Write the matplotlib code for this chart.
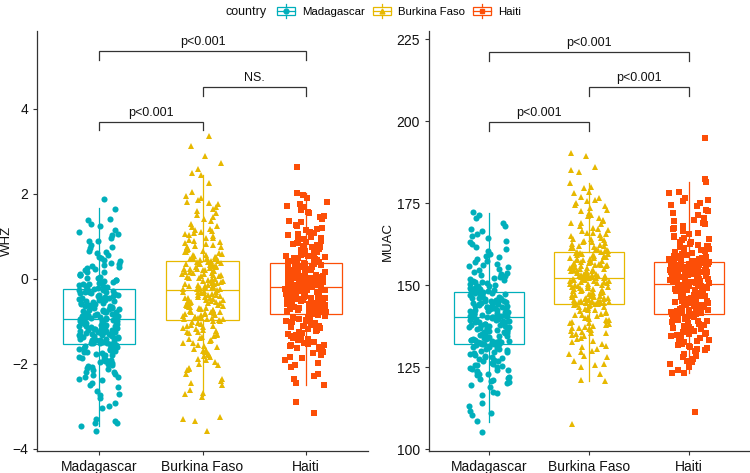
import numpy as np
import matplotlib

matplotlib.use("Agg")
import matplotlib.pyplot as plt  # noqa: E402
from matplotlib.legend_handler import HandlerBase  # noqa: E402
from matplotlib.lines import Line2D  # noqa: E402
from matplotlib.patches import Rectangle  # noqa: E402

plt.rcParams["font.family"] = ["Liberation Sans", "DejaVu Sans"]

countries = ["Madagascar", "Burkina Faso", "Haiti"]
colors = ["#00AFBB", "#E7B800", "#FC4E07"]
markers = ["o", "^", "s"]

# ---- WHZ values ----
whz_madagascar = [
    1.88, 1.65, 1.40, 1.38, 1.28, 1.15, 1.10, 1.02, 0.95, 0.88, 0.80, 0.72, 0.65, 0.60, 0.52,
    0.48, 0.42, 0.38, 0.33, 0.28, 0.25, 0.20, 0.16, 0.12, 0.08, 0.05, 0.02, -0.02, -0.05, -0.08,
    -0.10, -0.13, -0.15, -0.18, -0.20, -0.22, -0.23,
    -0.26, -0.28, -0.30, -0.32, -0.35, -0.37, -0.40, -0.42, -0.44, -0.46, -0.48, -0.50, -0.52,
    -0.55, -0.57, -0.59, -0.61, -0.63, -0.65, -0.67, -0.69, -0.71, -0.73, -0.75, -0.77, -0.78,
    -0.80, -0.82, -0.84, -0.85, -0.87, -0.88, -0.90, -0.91, -0.92, -0.93, -0.94,
    -0.96, -0.98, -0.99, -1.01, -1.02, -1.04, -1.05, -1.07, -1.08, -1.10, -1.12, -1.13, -1.15,
    -1.17, -1.18, -1.20, -1.22, -1.24, -1.25, -1.27, -1.29, -1.30, -1.32, -1.34, -1.36, -1.37,
    -1.39, -1.41, -1.43, -1.44, -1.46, -1.48, -1.49, -1.50, -1.51, -1.52, -1.53,
    -1.56, -1.58, -1.61, -1.64, -1.67, -1.70, -1.73, -1.77, -1.80, -1.84, -1.88, -1.92, -1.96,
    -2.00, -2.05, -2.10, -2.15, -2.20, -2.26, -2.32, -2.38, -2.45, -2.49, -2.55, -2.65, -2.70,
    -2.73, -2.80, -2.92, -2.99, -3.05, -3.30, -3.34, -3.38, -3.40, -3.47, -3.58,
]
whz_madagascar_more = [
    1.25, 1.05, 0.90, 0.75, 0.62, 0.55, 0.45, 0.35, 0.30, 0.22, 0.15, 0.10, 0.03, -0.03, -0.07,
    -0.12, -0.17, -0.21,
    -0.27, -0.31, -0.34, -0.38, -0.41, -0.45, -0.49, -0.53, -0.56, -0.60, -0.64, -0.68, -0.72,
    -0.76, -0.79, -0.83, -0.86, -0.89, -0.92, -0.94, -0.33, -0.47, -0.62, -0.74, -0.86,
    -0.97, -1.00, -1.03, -1.06, -1.09, -1.11, -1.14, -1.16, -1.19, -1.21, -1.23, -1.26, -1.28,
    -1.31, -1.33, -1.35, -1.38, -1.40, -1.42, -1.45, -1.47, -1.03, -1.19, -1.33, -1.50,
    -1.57, -1.60, -1.63, -1.66, -1.69, -1.72, -1.75, -1.79, -1.82, -1.86, -1.90, -1.94, -1.98,
    -2.03, -2.08, -2.13, -2.18, -2.24, -2.30, -2.36,
]
whz_burkina = [
    3.35, 3.12, 2.88, 2.72, 2.58, 2.50, 2.45, 2.25, 1.95, 1.85, 1.80, 1.78, 1.70, 1.60, 1.50,
    1.40, 1.30, 1.22, 1.15, 1.10, 1.05, 1.00, 0.95, 0.90, 0.85, 0.80, 0.76, 0.72, 0.68, 0.64,
    0.60, 0.57, 0.54, 0.51, 0.48, 0.46, 0.44,
    0.41, 0.39, 0.37, 0.35, 0.33, 0.31, 0.29, 0.26, 0.24, 0.22, 0.20, 0.18, 0.16, 0.13, 0.11,
    0.09, 0.07, 0.05, 0.03, 0.00, -0.02, -0.04, -0.06, -0.08, -0.10, -0.12, -0.14, -0.15, -0.17,
    -0.18, -0.20, -0.21, -0.22, -0.23, -0.24, -0.25, -0.26,
    -0.29, -0.31, -0.33, -0.35, -0.37, -0.39, -0.41, -0.43, -0.45, -0.47, -0.49, -0.51, -0.53,
    -0.55, -0.57, -0.59, -0.61, -0.63, -0.65, -0.67, -0.69, -0.71, -0.73, -0.75, -0.77, -0.79,
    -0.81, -0.83, -0.85, -0.87, -0.89, -0.90, -0.92, -0.93, -0.94, -0.95, -0.96,
    -0.99, -1.02, -1.05, -1.09, -1.12, -1.16, -1.20, -1.24, -1.28, -1.32, -1.37, -1.42, -1.47,
    -1.52, -1.58, -1.64, -1.70, -1.76, -1.82, -1.88, -1.95, -2.02, -2.10, -2.15, -2.25, -2.35,
    -2.40, -2.45, -2.50, -2.62, -2.68, -2.78, -3.25, -3.30, -3.35, -3.59, -2.72,
]
whz_burkina_more = [
    2.05, 1.90, 1.75, 1.65, 1.55, 1.45, 1.35, 1.25, 1.18, 1.12, 1.08, 1.02, 0.97, 0.92, 0.87,
    0.82, 0.78, 0.74, 0.70, 0.66, 0.62, 0.58, 0.55, 0.52, 0.49, 0.47,
    0.42, 0.40, 0.38, 0.36, 0.34, 0.32, 0.30, 0.27, 0.25, 0.23, 0.21, 0.19, 0.17, 0.14, 0.12,
    0.10, 0.06, 0.02, -0.01, -0.05, -0.09, -0.13, -0.16, -0.19, -0.23,
    -0.30, -0.34, -0.38, -0.42, -0.46, -0.50, -0.54, -0.58, -0.62, -0.66, -0.70, -0.74, -0.78,
    -0.82, -0.86, -0.90, -0.94, -0.32, -0.44, -0.56, -0.68, -0.80, -0.91,
    -1.00, -1.04, -1.07, -1.10, -1.14, -1.18, -1.22, -1.26, -1.30, -1.35, -1.40, -1.45, -1.50,
    -1.55, -1.61, -1.67, -1.73, -1.79, -1.85, -1.92, -2.00, -2.12,
]
whz_haiti = [
    2.63, 2.03, 1.97, 1.80, 1.75, 1.68, 1.62, 1.55, 1.48, 1.40, 1.33, 1.27, 1.20, 1.14, 1.08,
    1.02, 0.97, 0.92, 0.87, 0.82, 0.78, 0.74, 0.70, 0.66, 0.62, 0.59, 0.56, 0.53, 0.50, 0.48,
    0.46, 0.44, 0.42, 0.40, 0.39, 0.38, 0.37,
    0.35, 0.33, 0.31, 0.30, 0.28, 0.26, 0.24, 0.22, 0.20, 0.18, 0.16, 0.14, 0.12, 0.10, 0.08,
    0.07, 0.05, 0.03, 0.01, -0.01, -0.03, -0.05, -0.06, -0.08, -0.09, -0.10, -0.11, -0.12,
    -0.13, -0.14, -0.15, -0.16, -0.17, -0.18, -0.19, -0.19, -0.20,
    -0.22, -0.24, -0.26, -0.28, -0.30, -0.31, -0.33, -0.35, -0.37, -0.38, -0.40, -0.42, -0.44,
    -0.45, -0.47, -0.49, -0.51, -0.52, -0.54, -0.56, -0.58, -0.59, -0.61, -0.63, -0.65, -0.66,
    -0.68, -0.70, -0.72, -0.73, -0.75, -0.76, -0.78, -0.79, -0.80, -0.81, -0.82,
    -0.85, -0.88, -0.91, -0.94, -0.97, -1.00, -1.04, -1.08, -1.12, -1.16, -1.20, -1.25, -1.30,
    -1.35, -1.40, -1.45, -1.50, -1.56, -1.62, -1.68, -1.74, -1.80, -1.86, -1.92, -1.98, -2.02,
    -2.08, -2.25, -2.28, -2.35, -2.45, -2.50, -2.90, -3.16, -1.55, -1.60, -1.85,
]
whz_haiti_more = [
    1.90, 1.72, 1.58, 1.45, 1.36, 1.24, 1.17, 1.11, 1.05, 0.99, 0.94, 0.89, 0.84, 0.80, 0.76,
    0.72, 0.68, 0.64, 0.60, 0.57, 0.54, 0.51, 0.47, 0.43, 0.41,
    0.36, 0.34, 0.32, 0.29, 0.27, 0.25, 0.23, 0.21, 0.19, 0.17, 0.15, 0.13, 0.11, 0.09, 0.06,
    0.04, 0.02, 0.00, -0.02, -0.04, -0.07, -0.10, -0.13, -0.16, -0.18,
    -0.21, -0.23, -0.25, -0.27, -0.29, -0.32, -0.34, -0.36, -0.39, -0.41, -0.43, -0.46, -0.48,
    -0.50, -0.53, -0.55, -0.57, -0.60, -0.62, -0.64, -0.67, -0.69, -0.71, -0.74, -0.77,
    -0.86, -0.89, -0.92, -0.95, -0.99, -1.02, -1.06, -1.10, -1.14, -1.18, -1.22, -1.27, -1.32,
    -1.37, -1.42, -1.48, -1.53, -1.58, -1.65, -1.72,
]

# ---- MUAC values ----
muac_madagascar = [
    172.4, 171.5, 170.5, 169.0, 168.0, 167.0, 166.5, 165.5, 164.5, 163.5, 162.5, 161.5, 160.5,
    159.5, 158.5, 157.5, 157.0, 156.0, 155.5, 155.0, 154.0, 153.5, 153.0, 152.5, 152.0, 151.5,
    151.0, 150.5, 150.0, 149.7, 149.4, 149.1, 148.8, 148.6, 148.4, 148.2, 148.1,
    147.8, 147.5, 147.2, 147.0, 146.7, 146.4, 146.1, 145.8, 145.5, 145.2, 145.0, 144.7, 144.4,
    144.1, 143.8, 143.5, 143.3, 143.0, 142.8, 142.5, 142.3, 142.1, 141.9, 141.7, 141.5, 141.3,
    141.2, 141.0, 140.9, 140.8, 140.7, 140.6, 140.5, 140.4, 140.3, 140.3, 140.2,
    140.0, 139.7, 139.4, 139.1, 138.8, 138.5, 138.2, 137.9, 137.6, 137.3, 137.0, 136.7, 136.4,
    136.1, 135.8, 135.5, 135.2, 134.9, 134.6, 134.3, 134.0, 133.8, 133.6, 133.4, 133.2, 133.0,
    132.8, 132.7, 132.6, 132.5, 132.4, 132.3, 132.2, 132.1, 132.0, 132.0, 131.9,
    131.6, 131.2, 130.8, 130.4, 130.0, 129.5, 129.0, 128.5, 128.0, 127.5, 127.0, 126.5, 126.0,
    125.5, 125.0, 124.5, 124.0, 123.5, 123.0, 122.5, 122.0, 121.5, 121.0, 120.5, 120.0, 119.5,
    119.0, 117.5, 117.0, 116.5, 114.0, 113.0, 111.5, 111.0, 110.5, 108.6, 105.3,
]
muac_madagascar_more = [
    165.0, 163.0, 161.0, 159.0, 158.0, 156.5, 155.8, 154.5, 153.8, 152.8, 152.2, 151.2, 150.8,
    150.2, 149.8, 149.2, 148.9, 148.5,
    147.9, 147.6, 147.3, 146.9, 146.5, 146.2, 145.9, 145.6, 145.3, 144.9, 144.6, 144.2, 143.9,
    143.6, 143.2, 142.9, 142.6, 142.2, 141.8, 141.4, 141.1, 140.8, 140.5, 146.0, 143.4,
    139.8, 139.5, 139.2, 138.9, 138.6, 138.3, 138.0, 137.7, 137.4, 137.1, 136.8, 136.5, 136.2,
    135.9, 135.6, 135.3, 135.0, 134.7, 134.4, 134.1, 133.7, 133.3, 132.9, 132.4, 137.8,
    131.4, 131.0, 130.6, 130.2, 129.7, 129.2, 128.7, 128.2, 127.7, 127.2, 126.7, 126.2, 125.7,
    125.2, 124.7, 124.2, 123.7, 122.8, 121.8, 120.8,
]
muac_burkina = [
    190.4, 189.4, 186.0, 185.1, 184.5, 181.0, 180.0, 179.5, 178.5, 177.0, 176.0, 175.0, 174.0,
    173.0, 172.0, 171.0, 170.0, 169.0, 168.5, 168.0, 167.0, 166.5, 166.0, 165.5, 165.0, 164.5,
    164.0, 163.5, 163.0, 162.5, 162.0, 161.7, 161.4, 161.1, 160.8, 160.5, 160.3,
    160.0, 159.7, 159.4, 159.1, 158.8, 158.5, 158.2, 157.9, 157.6, 157.3, 157.0, 156.7, 156.4,
    156.1, 155.8, 155.5, 155.2, 154.9, 154.6, 154.4, 154.2, 154.0, 153.8, 153.6, 153.4, 153.2,
    153.1, 153.0, 152.9, 152.8, 152.7, 152.6, 152.5, 152.4, 152.3, 152.3, 152.2,
    152.0, 151.7, 151.4, 151.1, 150.8, 150.5, 150.2, 149.9, 149.6, 149.3, 149.0, 148.7, 148.4,
    148.1, 147.8, 147.5, 147.2, 146.9, 146.6, 146.4, 146.2, 146.0, 145.8, 145.6, 145.4, 145.2,
    145.1, 145.0, 144.9, 144.8, 144.7, 144.6, 144.5, 144.4, 144.3, 144.2, 144.1,
    143.8, 143.4, 143.0, 142.5, 142.0, 141.5, 141.0, 140.5, 140.0, 139.5, 139.0, 138.5, 138.0,
    137.5, 137.0, 136.5, 136.0, 135.5, 135.0, 134.5, 134.0, 133.0, 132.0, 131.5, 131.0, 130.0,
    129.0, 128.5, 128.0, 127.0, 126.0, 125.5, 125.0, 123.0, 121.0, 120.7, 107.6,
]
muac_burkina_more = [
    178.0, 176.5, 175.5, 174.5, 173.5, 172.5, 171.5, 170.5, 169.5, 168.8, 167.5, 166.8, 165.8,
    165.2, 164.2, 163.8, 163.2, 162.8, 162.2, 161.8, 161.2, 160.6,
    160.1, 159.8, 159.5, 159.2, 158.9, 158.6, 158.3, 158.0, 157.7, 157.4, 157.1, 156.8, 156.5,
    156.2, 155.9, 155.6, 155.3, 155.0, 154.7, 154.3, 153.9, 153.5, 153.0, 152.6, 156.0,
    151.9, 151.6, 151.3, 151.0, 150.7, 150.4, 150.1, 149.8, 149.5, 149.2, 148.9, 148.6, 148.3,
    148.0, 147.7, 147.4, 147.1, 146.8, 146.5, 146.1, 145.7, 145.3, 144.9, 144.5, 149.0,
    143.9, 143.6, 143.2, 142.8, 142.3, 141.8, 141.3, 140.8, 140.3, 139.8, 139.3, 138.8, 138.3,
    137.8, 137.3, 136.8, 136.3, 135.8, 135.3, 134.8, 133.5, 132.5, 130.5, 129.5,
]
muac_haiti = [
    195.0, 182.3, 181.3, 178.5, 178.0, 176.5, 176.0, 175.0, 174.5, 174.0, 173.0, 172.5, 171.5,
    170.5, 169.0, 168.0, 167.0, 166.0, 165.0, 164.5, 164.0, 163.0, 162.5, 162.0, 161.5, 161.0,
    160.5, 160.0, 159.5, 159.0, 158.6, 158.2, 157.9, 157.6, 157.4, 157.2, 157.0,
    156.7, 156.5, 156.3, 156.1, 155.9, 155.7, 155.5, 155.3, 155.1, 154.9, 154.7, 154.5, 154.3,
    154.1, 153.9, 153.7, 153.5, 153.3, 153.0, 152.8, 152.6, 152.4, 152.2, 152.0, 151.8, 151.6,
    151.4, 151.2, 151.0, 150.9, 150.8, 150.7, 150.6, 150.5, 150.4, 150.3, 150.2,
    149.9, 149.6, 149.3, 149.0, 148.7, 148.4, 148.1, 147.8, 147.5, 147.2, 146.9, 146.6, 146.3,
    146.0, 145.7, 145.4, 145.1, 144.8, 144.5, 144.2, 143.9, 143.6, 143.3, 143.0, 142.8, 142.6,
    142.4, 142.2, 142.0, 141.8, 141.7, 141.6, 141.5, 141.4, 141.3, 141.2, 141.1,
    140.7, 140.3, 139.9, 139.5, 139.0, 138.5, 138.0, 137.5, 137.0, 136.5, 136.0, 135.5, 135.0,
    134.5, 134.0, 133.5, 133.0, 132.5, 132.0, 131.5, 131.0, 130.5, 130.0, 129.5, 129.0, 128.5,
    128.0, 127.5, 127.0, 126.5, 126.0, 125.0, 124.1, 123.2, 123.1, 111.2, 130.2,
]
muac_haiti_more = [
    175.5, 172.0, 170.0, 169.5, 168.5, 167.5, 166.5, 165.5, 164.8, 163.8, 163.2, 162.2, 161.8,
    161.2, 160.8, 160.2, 159.8, 159.2, 158.8, 158.4, 158.0, 157.7, 157.5, 157.3, 157.1,
    156.8, 156.6, 156.4, 156.2, 156.0, 155.8, 155.6, 155.4, 155.2, 155.0, 154.8, 154.6, 154.4,
    154.2, 154.0, 153.8, 153.6, 153.4, 153.1, 152.7, 152.3, 151.9, 151.5, 151.1, 150.5,
    150.0, 149.7, 149.4, 149.1, 148.8, 148.5, 148.2, 147.9, 147.6, 147.3, 147.0, 146.7, 146.4,
    146.1, 145.8, 145.5, 145.2, 144.9, 144.6, 144.3, 144.0, 143.7, 143.4, 142.9, 142.3,
    140.9, 140.5, 140.1, 139.7, 139.2, 138.7, 138.2, 137.7, 137.2, 136.7, 136.2, 135.7, 135.2,
    134.7, 134.2, 133.7, 133.2, 132.7, 131.8, 130.8,
]

# ---- box statistics ----
whz_q1 = [-1.54, -0.97, -0.83]
whz_med = [-0.95, -0.27, -0.20]
whz_q3 = [-0.24, 0.43, 0.37]
whz_lo = [-3.47, -2.75, -2.50]
whz_hi = [1.67, 2.45, 2.03]

muac_q1 = [131.9, 144.1, 141.1]
muac_med = [140.2, 152.2, 150.2]
muac_q3 = [148.0, 160.2, 156.9]
muac_lo = [108.3, 120.7, 123.1]
muac_hi = [172.1, 181.1, 181.3]

# ---- pairwise comparisons ----
pairs = [(1, 2), (2, 3), (1, 3)]
whz_labels = ["p<0.001", "NS.", "p<0.001"]
whz_bracket_y = [3.70, 4.52, 5.36]
muac_labels = ["p<0.001", "p<0.001", "p<0.001"]
muac_bracket_y = [199.7, 210.5, 221.2]

AXIS = "#333333"


class BoxKey:
    def __init__(self, color, marker):
        self.color = color
        self.marker = marker


class BoxKeyHandler(HandlerBase):
    def create_artists(self, legend, orig, xdescent, ydescent, width, height, fontsize, trans):
        x0, y0 = -xdescent, -ydescent - 0.25 * height
        h = height * 1.5
        xc, yc = x0 + width / 2, y0 + h / 2
        box = Rectangle((x0, y0 + 0.22 * h), width, 0.56 * h, facecolor="white",
                        edgecolor=orig.color, lw=0.9, transform=trans)
        arts = [box,
                Line2D([xc, xc], [y0, y0 + 0.22 * h], color=orig.color, lw=0.9, transform=trans),
                Line2D([xc, xc], [y0 + 0.78 * h, y0 + h], color=orig.color, lw=0.9, transform=trans),
                Line2D([x0, x0 + width], [yc, yc], color=orig.color, lw=0.9, transform=trans),
                Line2D([xc], [yc], marker=orig.marker, color=orig.color, markersize=3.5,
                       lw=0, transform=trans)]
        return arts


def draw_panel(ax, groups, q1, med, q3, lo, hi, labels, bracket_y, drop, ylim, yticks, ylabel, rng):
    stats = [dict(q1=q1[i], med=med[i], q3=q3[i], whislo=lo[i], whishi=hi[i], fliers=[])
             for i in range(3)]
    bp = ax.bxp(stats, positions=[1, 2, 3], widths=0.7, showfliers=False, patch_artist=True,
                showcaps=False, manage_ticks=False)
    for i in range(3):
        c = colors[i]
        bp["boxes"][i].set(facecolor="white", edgecolor=c, linewidth=0.9, zorder=1)
        bp["medians"][i].set(color=c, linewidth=0.9, zorder=1.5)
        for w in bp["whiskers"][2 * i:2 * i + 2]:
            w.set(color=c, linewidth=0.9, zorder=1)

    for i, vals in enumerate(groups):
        vals = np.asarray(vals)
        xs = (i + 1) + rng.uniform(-0.2, 0.2, len(vals))  # jitter
        ax.plot(xs, vals, linestyle="none", marker=markers[i], color=colors[i],
                markersize=4.4, markeredgewidth=0, zorder=2)

    for (a, b), lab, y in zip(pairs, labels, bracket_y):
        ax.plot([a, a, b, b], [y - drop, y, y, y - drop], color=AXIS, lw=0.9,
                solid_joinstyle="miter", zorder=3)
        ax.annotate(lab, xy=((a + b) / 2, y), xytext=(0, 2), textcoords="offset points",
                    ha="center", va="bottom", fontsize=9, color="#111111")

    ax.set_xlim(0.4, 3.6)
    ax.set_ylim(*ylim)
    ax.set_xticks([1, 2, 3])
    ax.set_xticklabels(countries)
    ax.set_yticks(yticks)
    ax.set_ylabel(ylabel, fontsize=9.5, color="#111111")
    for s in ("top", "right"):
        ax.spines[s].set_visible(False)
    for s in ("left", "bottom"):
        ax.spines[s].set_color(AXIS)
        ax.spines[s].set_linewidth(0.9)
    ax.tick_params(colors=AXIS, labelcolor="#111111", labelsize=10, length=3, width=0.8)


fig = plt.figure(figsize=(7.5, 4.73), dpi=100)
ax1 = fig.add_axes([37 / 750, 22 / 473, 331 / 750, 420 / 473])
ax2 = fig.add_axes([429 / 750, 22 / 473, 320 / 750, 420 / 473])
rng = np.random.default_rng(7)  # jitter offsets only

whz_groups = [whz_madagascar + whz_madagascar_more, whz_burkina + whz_burkina_more,
              whz_haiti + whz_haiti_more]
muac_groups = [muac_madagascar + muac_madagascar_more, muac_burkina + muac_burkina_more,
               muac_haiti + muac_haiti_more]

draw_panel(ax1, whz_groups, whz_q1, whz_med, whz_q3, whz_lo, whz_hi,
           whz_labels, whz_bracket_y, 0.21, (-4.05, 5.83), [-4, -2, 0, 2, 4], "WHZ", rng)
draw_panel(ax2, muac_groups, muac_q1, muac_med, muac_q3, muac_lo,
           muac_hi, muac_labels, muac_bracket_y, 2.75, (99.4, 227.5), [100, 125, 150, 175, 200, 225],
           "MUAC", rng)
ax1.yaxis.set_label_coords(-0.072, 0.5)
ax2.yaxis.set_label_coords(-0.11, 0.5)

keys = [BoxKey(c, m) for c, m in zip(colors, markers)]
fig.legend(keys, countries, handler_map={BoxKey: BoxKeyHandler()}, ncol=3, frameon=False,
           loc="center", bbox_to_anchor=(399 / 750, 1 - 12 / 473), fontsize=8.2,
           handlelength=1.6, handleheight=0.9, handletextpad=0.6, columnspacing=0.7,
           borderpad=0, borderaxespad=0)
fig.text(267 / 750, 1 - 12 / 473, "country", ha="right", va="center", fontsize=9, color="#111111")

fig.savefig("out.png", dpi=100, facecolor="white")
